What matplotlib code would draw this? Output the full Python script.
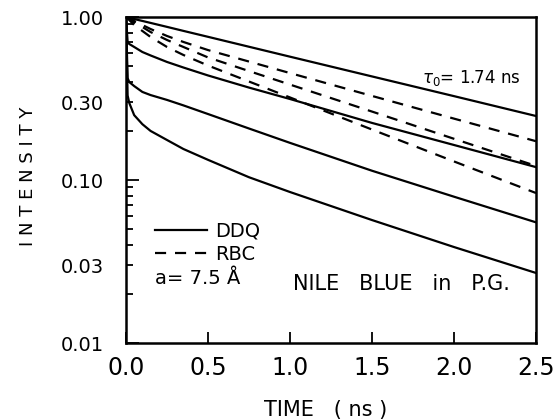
import matplotlib
matplotlib.use("Agg")
import matplotlib.pyplot as plt
from matplotlib.lines import Line2D
from matplotlib.ticker import FixedLocator, LogLocator, FuncFormatter

# time axis (ns) and intensities
time_ns = [0.0, 0.01, 0.02, 0.05, 0.1, 0.15, 0.25, 0.35, 0.5, 0.75, 1.0, 1.5, 2.0, 2.5]

free_dye = [1.0, 0.994, 0.989, 0.972, 0.946, 0.92, 0.87, 0.822, 0.756, 0.657, 0.571, 0.432, 0.327, 0.247]

ddq_1 = [1.0, 0.703, 0.683, 0.655, 0.61, 0.581, 0.53, 0.49, 0.438, 0.369, 0.314, 0.224, 0.164, 0.12]
ddq_2 = [1.0, 0.422, 0.399, 0.377, 0.347, 0.332, 0.31, 0.287, 0.254, 0.207, 0.169, 0.114, 0.079, 0.055]
ddq_3 = [1.0, 0.33, 0.297, 0.25, 0.22, 0.2, 0.176, 0.155, 0.133, 0.104, 0.0844, 0.0568, 0.0388, 0.0269]

rbc_1 = [1.0, 0.989, 0.978, 0.945, 0.893, 0.844, 0.765, 0.703, 0.627, 0.533, 0.453, 0.328, 0.238, 0.173]
rbc_2 = [1.0, 0.986, 0.972, 0.925, 0.868, 0.809, 0.723, 0.655, 0.565, 0.466, 0.385, 0.263, 0.179, 0.122]
rbc_3 = [1.0, 0.979, 0.958, 0.893, 0.821, 0.754, 0.655, 0.585, 0.504, 0.402, 0.321, 0.204, 0.13, 0.0832]

y_ticks = [0.01, 0.03, 0.1, 0.3, 1.0]
y_labels = ['0.01', '0.03', '0.10', '0.30', '1.00']
x_ticks = [0.0, 0.5, 1.0, 1.5, 2.0, 2.5]

plt.rcParams['font.family'] = 'DejaVu Sans'

fig = plt.figure(figsize=(5.54, 4.20), dpi=100)
ax = fig.add_axes([0.2274, 0.1833, 0.7401, 0.7762])

lw = 1.6
dash = (0, (5, 4))
for s in [free_dye, ddq_1, ddq_2, ddq_3]:
    ax.plot(time_ns, s, color='black', lw=lw, solid_joinstyle='round')
for s in [rbc_1, rbc_2, rbc_3]:
    ax.plot(time_ns, s, color='black', lw=lw, linestyle=dash)

ax.set_yscale('log')
ax.set_xlim(0, 2.5)
ax.set_ylim(0.01, 1.0)

for sp in ax.spines.values():
    sp.set_linewidth(1.8)

# y ticks: decades long, others short, labels at 1, .3, .1, .03, .01
ax.yaxis.set_major_locator(FixedLocator([0.01, 0.1, 1.0]))
ax.yaxis.set_major_formatter(FuncFormatter(lambda v, p: {0.01: '0.01', 0.1: '0.10', 1.0: '1.00'}.get(round(v, 3), '')))
ax.yaxis.set_minor_locator(LogLocator(base=10, subs=[2, 3, 4, 5, 6, 7, 8, 9]))

def minor_fmt(v, p):
    for t, l in zip(y_ticks, y_labels):
        if abs(v - t) < 1e-6 and t in (0.03, 0.3):
            return l
    return ''

ax.yaxis.set_minor_formatter(FuncFormatter(minor_fmt))
ax.tick_params(axis='y', which='major', direction='in', length=9, width=1.3,
               labelsize=14, pad=16, right=False)
ax.tick_params(axis='y', which='minor', direction='in', length=5, width=1.3,
               labelsize=14, pad=16, right=False)

ax.set_xticks(x_ticks)
ax.set_xticklabels(['%.1f' % v for v in x_ticks])
ax.tick_params(axis='x', which='major', direction='in', length=8, width=1.3,
               labelsize=17, pad=9, top=False)
ax.tick_params(axis='x', which='minor', bottom=False, top=False)

# legend
handles = [Line2D([], [], color='black', lw=lw),
           Line2D([], [], color='black', lw=lw, linestyle=dash)]
leg = ax.legend(handles, ['DDQ', 'RBC'], loc='upper left',
                bbox_to_anchor=(0.0707, 0.372), borderaxespad=0, borderpad=0,
                frameon=False, fontsize=14, handlelength=2.7,
                handletextpad=0.4, labelspacing=0.2)

ax.text(0.0707, 0.199, 'a= 7.5 Å', transform=ax.transAxes, fontsize=14,
        va='center', ha='left')
ax.text(0.407, 0.181, 'NILE   BLUE   in   P.G.', transform=ax.transAxes,
        fontsize=15, va='center', ha='left')
ax.text(0.722, 0.813, r'$\tau_0$= 1.74 ns', transform=ax.transAxes,
        fontsize=12, va='center', ha='left')

fig.text(28 / 554, 1 - 176 / 420, 'I N T E N S I T Y', rotation=90,
         fontsize=13, ha='center', va='center')
fig.text(326 / 554, 1 - 410 / 420, 'TIME   ( ns )', fontsize=15,
         ha='center', va='center')

fig.savefig('out.png', dpi=100)
